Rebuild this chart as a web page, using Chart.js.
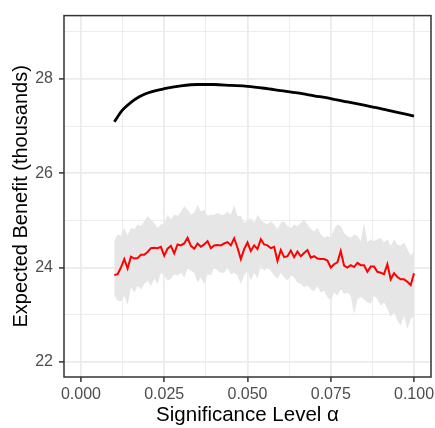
<!DOCTYPE html>
<html>
<head>
<meta charset="utf-8">
<script src="https://cdn.jsdelivr.net/npm/chart.js@4.4.1/dist/chart.umd.min.js"></script>
<style>
  html, body { margin: 0; padding: 0; background: #fff; }
  #wrap { width: 435px; height: 428px; }
</style>
</head>
<body>
<div id="wrap"><canvas id="chart" width="435" height="428"></canvas></div>
<script>
// significance levels used in the simulation
const alpha = [
  0.010, 0.011, 0.012, 0.013, 0.014, 0.015, 0.016, 0.017, 0.018, 0.019,
  0.020, 0.021, 0.022, 0.023, 0.024, 0.025, 0.026, 0.027, 0.028, 0.029,
  0.030, 0.031, 0.032, 0.033, 0.034, 0.035, 0.036, 0.037, 0.038, 0.039,
  0.040, 0.041, 0.042, 0.043, 0.044, 0.045, 0.046, 0.047, 0.048, 0.049,
  0.050, 0.051, 0.052, 0.053, 0.054, 0.055, 0.056, 0.057, 0.058, 0.059,
  0.060, 0.061, 0.062, 0.063, 0.064, 0.065, 0.066, 0.067, 0.068, 0.069,
  0.070, 0.071, 0.072, 0.073, 0.074, 0.075, 0.076, 0.077, 0.078, 0.079,
  0.080, 0.081, 0.082, 0.083, 0.084, 0.085, 0.086, 0.087, 0.088, 0.089,
  0.090, 0.091, 0.092, 0.093, 0.094, 0.095, 0.096, 0.097, 0.098, 0.099,
  0.100
];

// simulated mean benefit (red line)
const simMean = [
  23.84, 23.86, 24.00, 24.18, 23.98, 24.23, 24.19, 24.20, 24.27, 24.27,
  24.33, 24.41, 24.42, 24.41, 24.44, 24.25, 24.40, 24.46, 24.30, 24.49,
  24.47, 24.51, 24.63, 24.46, 24.40, 24.51, 24.44, 24.49, 24.56, 24.41,
  24.47, 24.48, 24.47, 24.51, 24.54, 24.47, 24.62, 24.42, 24.18, 24.39,
  24.53, 24.35, 24.47, 24.39, 24.60, 24.49, 24.47, 24.41, 24.44, 24.14,
  24.37, 24.22, 24.24, 24.36, 24.22, 24.34, 24.24, 24.31, 24.37, 24.21,
  24.24, 24.19, 24.18, 24.18, 24.15, 24.00, 24.07, 24.11, 24.35, 24.04,
  24.00, 24.05, 24.01, 24.10, 24.05, 24.05, 23.91, 24.02, 24.02, 23.91,
  23.89, 23.86, 24.07, 23.75, 23.88, 23.80, 23.75, 23.75, 23.70, 23.63,
  23.88
];

// band around the simulated mean
const simUpper = [
  24.56, 24.70, 24.67, 24.84, 24.68, 24.84, 24.81, 24.91, 24.88, 24.98,
  25.09, 25.02, 24.95, 24.84, 24.91, 24.93, 25.12, 25.02, 25.12, 25.10,
  25.18, 25.30, 25.23, 25.12, 25.16, 25.33, 25.19, 25.23, 25.09, 25.12,
  25.12, 25.16, 25.12, 25.12, 25.19, 25.12, 25.33, 25.09, 25.09, 24.95,
  24.98, 25.05, 24.95, 25.12, 25.02, 24.95, 24.91, 24.98, 24.91, 24.81,
  24.95, 24.98, 24.88, 24.84, 24.91, 24.88, 24.95, 25.02, 24.91, 24.81,
  24.77, 24.84, 24.70, 24.63, 24.67, 24.63, 24.81, 24.91, 24.88, 24.74,
  24.67, 24.63, 24.70, 24.67, 24.56, 24.95, 24.53, 24.60, 24.56, 24.60,
  24.63, 24.53, 24.60, 24.46, 24.60, 24.49, 24.46, 24.53, 24.39, 24.25,
  24.35
];
const simLower = [
  23.40, 23.30, 23.28, 23.40, 23.20, 23.58, 23.47, 23.61, 23.54, 23.65,
  23.72, 23.61, 23.76, 23.65, 23.89, 23.83, 23.72, 23.76, 23.86, 23.83,
  23.89, 23.79, 23.98, 23.93, 23.89, 23.68, 23.79, 23.65, 23.86, 23.83,
  24.00, 23.93, 23.89, 23.89, 24.00, 23.86, 23.89, 23.83, 23.65, 23.83,
  23.93, 23.72, 23.89, 23.76, 24.04, 23.93, 24.00, 23.93, 23.83, 23.76,
  23.89, 23.79, 23.72, 23.83, 23.79, 23.68, 23.66, 23.58, 23.62, 23.54,
  23.50, 23.61, 23.47, 23.51, 23.37, 23.30, 23.47, 23.40, 23.54, 23.44,
  23.47, 23.40, 23.01, 23.33, 23.37, 23.33, 23.26, 23.23, 23.40, 23.33,
  23.19, 23.26, 23.12, 22.95, 23.05, 22.88, 22.77, 22.98, 22.70, 22.91,
  22.98
];

// theoretical expected benefit (black curve)
const theoryAlpha = [
  0.010, 0.0125, 0.015, 0.0175, 0.020, 0.025, 0.030, 0.035, 0.040, 0.045,
  0.050, 0.055, 0.060, 0.065, 0.070, 0.075, 0.080, 0.085, 0.090, 0.095, 0.100
];
const theoryBenefit = [
  27.09, 27.34, 27.50, 27.62, 27.70, 27.79, 27.85, 27.88, 27.88, 27.86,
  27.84, 27.80, 27.75, 27.70, 27.64, 27.58, 27.51, 27.44, 27.37, 27.29, 27.21
];

// axis breaks
const xMajor = [0, 0.025, 0.05, 0.075, 0.1];
const xMinor = [0.0125, 0.0375, 0.0625, 0.0875];
const yMajor = [22, 24, 26, 28];
const yMinor = [23, 25, 27, 29];

const font = "'Liberation Sans', Arial, Helvetica, sans-serif";

const toPoints = (xs, ys) => xs.map((x, i) => ({ x: x, y: ys[i] }));

// frame around the panel, like theme_bw
const panelBorder = {
    id: 'panelBorder',
    afterDatasetsDraw(chart) {
        const { ctx, chartArea: a } = chart;
        ctx.save();
        ctx.strokeStyle = '#333333';
        ctx.lineWidth = 1.5;
        ctx.strokeRect(a.left, a.top, a.right - a.left, a.bottom - a.top);
        ctx.restore();
    }
};

function axisOptions(major, minor, fmt) {
    const isMajor = ctx => ctx.tick && major.includes(ctx.tick.value);
    return {
        type: 'linear',
        afterBuildTicks: scale => {
            scale.ticks = major.concat(minor).sort((a, b) => a - b).map(v => ({ value: v }));
        },
        ticks: {
            autoSkip: false,
            maxRotation: 0,
            color: '#4d4d4d',
            font: { family: font, size: 16 },
            callback: v => major.includes(v) ? fmt(v) : ''
        },
        grid: {
            color: '#ebebeb',
            lineWidth: ctx => isMajor(ctx) ? 1.8 : 0.9,
            tickLength: 5,
            tickWidth: 1.5,
            tickColor: ctx => isMajor(ctx) ? '#333333' : 'rgba(0,0,0,0)'
        },
        border: { display: false }
    };
}

const xAxis = axisOptions(xMajor, xMinor, v => v.toFixed(3));
Object.assign(xAxis, {
    min: -0.0051,
    max: 0.1051,
    title: {
        display: true,
        text: 'Significance Level α',
        color: '#000000',
        font: { family: font, size: 20.5 },
        padding: { top: 0, bottom: 0 }
    },
    afterFit: scale => {
        scale.height = 51;
        scale.paddingLeft = 0;
        scale.paddingRight = 0;
    }
});
xAxis.ticks.padding = 3;

const yAxis = axisOptions(yMajor, yMinor, v => String(v));
Object.assign(yAxis, {
    min: 21.68,
    max: 29.34,
    title: {
        display: true,
        text: 'Expected Benefit (thousands)',
        color: '#000000',
        font: { family: font, size: 20 },
        padding: { top: 9, bottom: 0 }
    },
    afterFit: scale => {
        scale.width = 64;
    }
});
yAxis.ticks.padding = 6;

new Chart(document.getElementById('chart').getContext('2d'), {
    type: 'line',
    data: {
        datasets: [
            {
                label: 'Theory',
                data: toPoints(theoryAlpha, theoryBenefit),
                borderColor: '#000000',
                borderWidth: 2.8,
                pointRadius: 0,
                cubicInterpolationMode: 'monotone',
                fill: false
            },
            {
                label: 'Simulation',
                data: toPoints(alpha, simMean),
                borderColor: '#ff0000',
                borderWidth: 2,
                pointRadius: 0,
                tension: 0,
                fill: false
            },
            {
                label: 'Lower',
                data: toPoints(alpha, simLower),
                borderWidth: 0,
                borderColor: 'rgba(0,0,0,0)',
                pointRadius: 0,
                fill: false
            },
            {
                label: 'Upper',
                data: toPoints(alpha, simUpper),
                borderWidth: 0,
                borderColor: 'rgba(0,0,0,0)',
                backgroundColor: '#e6e6e6',
                pointRadius: 0,
                fill: 2
            }
        ]
    },
    options: {
        responsive: false,
        animation: false,
        devicePixelRatio: 1,
        layout: { padding: { left: 0, top: 13, right: 4, bottom: 0 } },
        plugins: {
            legend: { display: false },
            tooltip: { enabled: false }
        },
        scales: { x: xAxis, y: yAxis }
    },
    plugins: [panelBorder]
});
</script>
</body>
</html>
